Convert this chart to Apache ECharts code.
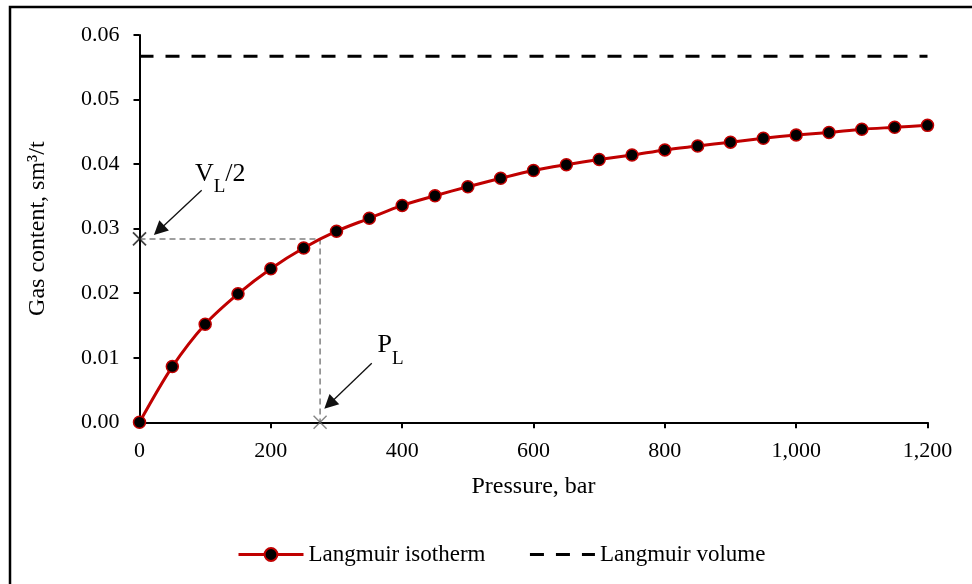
<!DOCTYPE html>
<html>
<head>
<meta charset="utf-8">
<script src="https://cdn.jsdelivr.net/npm/echarts@6/dist/echarts.min.js"></script>
<style>html,body{margin:0;padding:0;background:#fff}#c{width:972px;height:584px}</style>
</head>
<body>
<div id="c"></div>
<script>
// ---- data ----
var pressure = [0,50,100,150,200,250,300,350,400,450,500,550,600,650,700,750,800,850,900,950,1000,1050,1100,1150,1200];
var gasContent = [0,0.00863,0.0152,0.0199,0.0238,0.0270,0.0296,0.0316,0.0336,0.0351,0.0365,0.0378,0.0390,0.0399,0.0407,0.0414,0.0422,0.0428,0.0434,0.0440,0.0445,0.0449,0.0454,0.0457,0.0460];
var langmuirVolume = 0.0567;
var halfVolume = 0.0284;
var langmuirPressure = 275;
var xTicks = {min:0, max:1200, interval:200};
var yTicks = {min:0, max:0.06, interval:0.01};
var seriesNames = ['Langmuir isotherm','Langmuir volume'];
var vlArrow = [[94.7,0.03596],[29.7,0.02975]];
var plArrow = [[353.7,0.00916],[289.1,0.00284]];
var vlLabelAt = [84.5,0.03711];   // baseline-left anchor of "VL/2"
var plLabelAt = [362.4,0.01053];  // baseline-left anchor of "PL"

var FONT = 'Liberation Serif';
var isoData = pressure.map(function(p,i){return [p,gasContent[i]];});
var volData = [[xTicks.min,langmuirVolume],[xTicks.max,langmuirVolume]];
var guideData = [[0,halfVolume],[langmuirPressure,halfVolume],[langmuirPressure,0]];

var chart = echarts.init(document.getElementById('c'), null, {renderer:'canvas'});
chart.setOption({
  animation:false,
  backgroundColor:'#fff',
  graphic:[{id:'frame',type:'rect',shape:{x:10,y:7,width:1100,height:700},style:{fill:'none',stroke:'#000',lineWidth:2.5},silent:true}],
  grid:{left:139.5,top:35,width:788,height:387.3,containLabel:false},
  legend:{
    data:[{name:seriesNames[0]},{name:seriesNames[1]}],
    left:237, top:543, padding:0, itemWidth:65, itemHeight:16, itemGap:43,
    lineStyle:{width:3},
    textStyle:{fontFamily:FONT,fontSize:23,color:'#000'}
  },
  xAxis:{
    type:'value', min:xTicks.min, max:xTicks.max, interval:xTicks.interval,
    name:'Pressure, bar', nameLocation:'middle', nameGap:52,
    nameTextStyle:{fontFamily:FONT,fontSize:24,color:'#000'},
    axisLine:{show:true,onZero:false,lineStyle:{color:'#000',width:2}},
    axisTick:{show:true,inside:false,length:6,lineStyle:{color:'#000',width:2}},
    axisLabel:{fontFamily:FONT,fontSize:22,color:'#000',margin:18,
      formatter:function(v){return v.toLocaleString('en-US');}},
    splitLine:{show:false}
  },
  yAxis:{
    type:'value', min:yTicks.min, max:yTicks.max, interval:yTicks.interval,
    name:'Gas content, sm³/t', nameLocation:'middle', nameGap:90,
    nameTextStyle:{fontFamily:FONT,fontSize:24,color:'#000'},
    axisLine:{show:true,onZero:false,lineStyle:{color:'#000',width:2}},
    axisTick:{show:true,inside:false,length:6,lineStyle:{color:'#000',width:2}},
    axisLabel:{fontFamily:FONT,fontSize:22,color:'#000',margin:20,
      formatter:function(v){return v.toFixed(2);}},
    splitLine:{show:false}
  },
  series:[
    {name:'guides',type:'line',data:guideData,symbol:'none',silent:true,z:1,
     lineStyle:{color:'#808080',width:1.5,type:[6,4]}},
    {name:'guideMarks',type:'scatter',silent:true,z:6,
     data:[{value:guideData[0],itemStyle:{borderColor:'#111',borderWidth:1.8}},{value:guideData[2],itemStyle:{borderColor:'#666'}}],
     symbol:'path://M0,0L10,10M10,0L0,10',symbolSize:13,
     itemStyle:{color:'none',borderColor:'#333',borderWidth:1.4}},
    {name:seriesNames[0],type:'line',data:isoData,smooth:0.3,z:4,
     symbol:'circle',symbolSize:12,showSymbol:true,
     lineStyle:{color:'#C00000',width:3},
     itemStyle:{color:'#000',borderColor:'#C00000',borderWidth:1.5}},
    {name:seriesNames[1],type:'line',data:volData,symbol:'none',z:3,
     lineStyle:{color:'#000',width:3,type:[14,12]},itemStyle:{color:'rgba(0,0,0,0)'}},
    {name:'arrows',type:'lines',coordinateSystem:'cartesian2d',silent:true,z:5,
     symbol:['none','triangle'],symbolSize:14,
     lineStyle:{color:'#111',width:1.3,opacity:1},
     data:[{coords:vlArrow},{coords:plArrow}]}
  ]
});

// text annotations with subscripts, anchored in data space
(function(){
  var ctx = document.createElement('canvas').getContext('2d');
  function tw(t,s){ctx.font=s+'px "'+FONT+'"';return ctx.measureText(t).width;}
  var MAIN=26, SUB=19, SUBDROP=11;
  function pieces(id, anchor, parts){
    var p = chart.convertToPixel({gridIndex:0}, anchor);
    var x = p[0], out=[];
    parts.forEach(function(pt,i){
      var s = pt.sub ? SUB : MAIN;
      var base = p[1] + (pt.sub ? SUBDROP : 0);
      out.push({id:id+i,type:'text',silent:true,z:100,x:x,y:base-0.34*s,
        style:{text:pt.t,fill:'#000',font:s+'px "'+FONT+'"',align:'left',verticalAlign:'middle'}});
      x += tw(pt.t,s);
    });
    return out;
  }
  var g = [].concat(
    pieces('vl',vlLabelAt,[{t:'V'},{t:'L',sub:true},{t:'/2'}]),
    pieces('pl',plLabelAt,[{t:'P'},{t:'L',sub:true}])
  );
  chart.setOption({graphic:g});
})();
</script>
</body>
</html>
